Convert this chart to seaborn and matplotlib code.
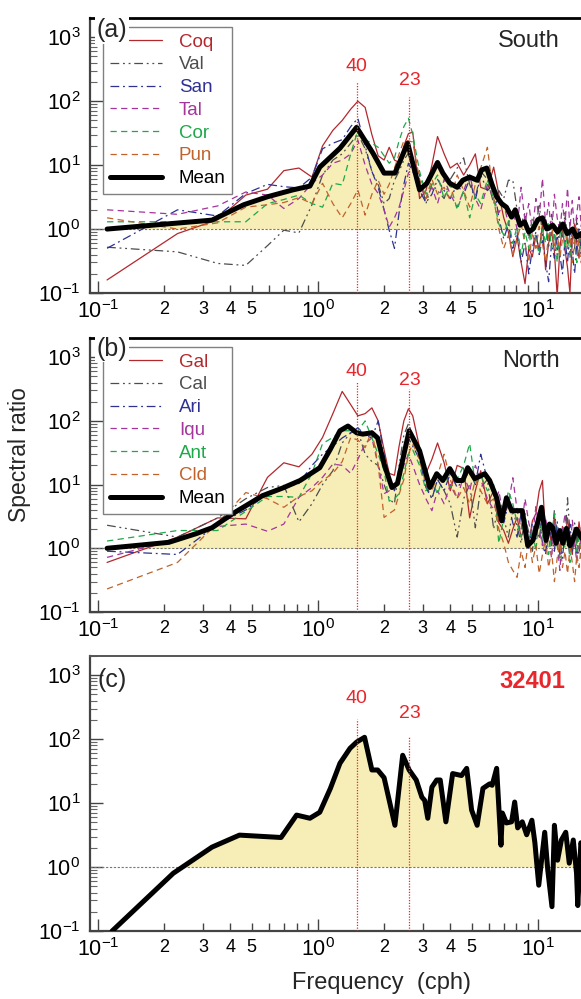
import numpy as np
import matplotlib
matplotlib.use("Agg")
import matplotlib.pyplot as plt
import seaborn as sns
from matplotlib.ticker import LogLocator, FuncFormatter, NullFormatter

sns.set_style("ticks")
plt.rcParams["font.family"] = ["Liberation Sans", "DejaVu Sans"]
plt.rcParams["mathtext.fontset"] = "custom"
plt.rcParams["mathtext.rm"] = "Liberation Sans"
plt.rcParams["mathtext.it"] = "Liberation Sans:italic"
plt.rcParams["mathtext.bf"] = "Liberation Sans:bold"

# ---------------- data ----------------
freq_grid = [0.11, 0.23, 0.35, 0.47, 0.59, 0.70, 0.82, 0.94, 1.05, 1.17,
             1.29, 1.41, 1.52, 1.64, 1.76, 1.88, 2.00, 2.11, 2.23, 2.34,
             2.46, 2.58, 2.70, 2.90, 3.10, 3.30, 3.50, 3.75, 4.00, 4.30,
             4.60, 4.90, 5.20, 5.50, 5.90, 6.30, 6.65, 7.00, 7.35, 7.70,
             8.05, 8.40, 8.75, 9.10, 9.45, 9.80, 10.15, 10.50, 10.85, 11.20,
             11.55, 11.90, 12.25, 12.60, 12.95, 13.30, 13.65, 14.00, 14.35, 14.70,
             15.05, 15.40, 15.75, 16.10, 16.50]

# South stations
coq = [0.16, 0.85, 1.4, 3.4, 4.2, 8.2, 9.0, 6.5, 20, 35,
       50, 75, 100, 80, 30, 14, 12, 19, 12, 11,
       20, 31, 33, 3.0, 4.0, 10, 28, 15, 9.0, 10.7,
       7.0, 10, 15, 4.5, 4.1, 9.3, 3.5, 1.5, 0.9, 0.37,
       0.75, 0.3, 0.14, 0.5, 0.37, 0.8, 0.47, 1.2, 0.23, 0.6,
       0.9, 0.45, 0.09, 0.5, 1.1, 0.47, 0.25, 0.1, 0.7, 1.2,
       0.6, 0.35, 0.8, 0.5, 0.9]
val = [0.52, 0.44, 0.29, 0.27, 0.55, 0.96, 0.87, 2.4, 7.0, 12,
       15, 22, 31, 18, 8.0, 5.0, 2.5, 3.0, 5.8, 8.0,
       12, 15.4, 12, 7.0, 2.5, 5.0, 4.0, 3.0, 6.0, 9.0,
       13, 5.0, 3.0, 8.0, 6.0, 2.5, 4.0, 3.0, 5.8, 5.8,
       2.0, 1.2, 1.8, 0.7, 1.5, 1.0, 2.5, 0.8, 1.4, 0.5,
       1.7, 0.9, 0.4, 1.3, 0.7, 1.8, 0.6, 0.35, 1.0, 0.5,
       1.5, 0.7, 0.4, 1.1, 0.6]
san = [0.5, 2.0, 1.6, 3.6, 5.0, 4.6, 4.4, 6.5, 18, 22,
       25, 40, 54, 20, 8.0, 4.5, 2.0, 0.96, 0.5, 1.8,
       5.0, 10.7, 8.0, 4.0, 2.6, 3.5, 6.0, 4.0, 3.0, 5.0,
       3.5, 6.0, 2.8, 7.0, 4.0, 5.0, 1.5, 0.7, 1.2, 0.5,
       0.9, 0.3, 0.6, 0.2, 0.5, 0.9, 0.4, 0.7, 0.3, 0.15,
       0.6, 0.35, 0.8, 0.4, 0.2, 0.7, 0.3, 0.9, 0.45, 0.2,
       0.6, 1.0, 0.4, 0.7, 0.3]
tal = [2.0, 1.7, 2.3, 3.8, 3.4, 2.1, 3.0, 5.2, 7.0, 10.7,
       12, 15, 24.6, 10, 5.0, 3.6, 2.0, 1.07, 1.5, 2.2,
       4.0, 7.5, 9.0, 5.0, 3.0, 4.5, 2.5, 6.0, 3.5, 2.2,
       4.0, 7.0, 3.0, 2.0, 5.0, 3.0, 1.8, 2.5, 1.2, 2.0,
       1.0, 4.5, 1.3, 2.5, 0.9, 3.0, 1.5, 6.2, 1.2, 2.6,
       0.8, 3.5, 1.5, 0.9, 2.5, 1.2, 4.4, 1.0, 2.8, 0.8,
       1.8, 3.2, 1.1, 2.0, 0.9]
cor = [1.3, 1.3, 1.3, 1.3, 2.5, 2.9, 3.4, 2.5, 2.2, 5.2,
       4.9, 15, 35, 25, 22, 19, 14, 10.7, 13, 24,
       40, 54, 30, 8.0, 3.5, 5.0, 7.0, 3.0, 5.0, 2.0,
       4.0, 1.5, 3.5, 2.5, 6.0, 3.0, 1.2, 0.8, 1.4, 0.6,
       1.1, 0.4, 0.9, 0.5, 1.3, 0.7, 0.4, 1.0, 0.6, 1.3,
       0.5, 0.9, 0.3, 0.8, 1.2, 0.5, 0.9, 0.4, 1.1, 0.6,
       0.3, 0.8, 0.5, 1.0, 0.6]
pun = [1.5, 1.0, 1.25, 2.2, 2.4, 2.6, 3.1, 2.5, 5.2, 2.5,
       1.5, 2.5, 4.1, 1.65, 3.5, 5.8, 3.5, 5.0, 9.0, 15,
       24, 24, 23, 6.0, 3.0, 6.0, 3.5, 4.5, 2.8, 7.0,
       4.0, 2.2, 5.0, 9.0, 19, 3.0, 1.0, 0.5, 0.8, 0.4,
       0.7, 1.2, 0.6, 0.3, 0.9, 0.5, 1.1, 0.6, 0.3, 0.8,
       1.2, 0.5, 0.9, 0.35, 0.7, 1.0, 0.5, 0.8, 0.3, 0.6,
       1.1, 0.5, 0.3, 0.7, 0.4]

freq_mean_south = [0.11, 0.33, 0.46, 0.59, 0.77, 0.92, 1.02, 1.26, 1.50, 1.78,
                   2.00, 2.24, 2.56, 2.90, 3.13, 3.50, 3.70, 3.98, 4.30, 4.56,
                   4.90, 5.30, 5.55, 5.86, 6.20, 6.50, 6.85, 7.20, 7.60, 7.90,
                   8.30, 8.70, 9.10, 9.50, 10.0, 10.5, 11.0, 11.7, 12.3, 13.0,
                   13.6, 14.4, 15.0, 15.7, 16.5]
mean_south = [1.0, 1.38, 2.4, 3.2, 4.1, 4.7, 9.3, 18.4, 39, 15.4,
              7.5, 7.5, 22, 4.1, 5.2, 11, 7.5, 5.2, 4.5, 5.8,
              6.5, 5.8, 8.4, 9.0, 4.9, 3.2, 2.5, 2.2, 1.54, 2.0,
              1.15, 1.3, 0.9, 1.0, 1.4, 1.5, 1.0, 1.15, 0.9, 1.2,
              0.85, 1.0, 0.75, 0.85, 0.6]

# North stations
gal = [0.6, 1.5, 3.0, 2.9, 13, 22, 19, 30, 55, 130,
       290, 180, 120, 130, 160, 100, 35, 15, 14, 40,
       100, 155, 120, 38, 15, 25, 45, 22, 8.0, 20,
       18, 3.0, 8.0, 16.5, 5.0, 8.0, 2.5, 1.9, 1.2, 2.0,
       3.05, 1.5, 2.2, 1.2, 2.7, 3.5, 8.0, 11.6, 1.5, 2.5,
       1.1, 3.0, 1.8, 0.9, 2.2, 1.3, 3.0, 1.5, 0.8, 2.0,
       1.2, 2.6, 1.4, 0.9, 1.7]
cal = [2.3, 1.5, 3.0, 6.0, 9.0, 9.7, 2.6, 5.0, 10, 16.5,
       45, 65, 70, 30, 23, 20, 10, 6.0, 5.0, 20,
       60, 90, 60, 25, 10, 6.0, 12, 8.0, 5.0, 1.5,
       6.0, 10, 2.1, 9.0, 12, 2.0, 5.0, 3.0, 1.5, 4.0,
       2.2, 1.2, 3.0, 1.8, 0.9, 2.4, 1.4, 3.5, 0.9, 2.0,
       1.3, 4.0, 1.5, 0.8, 2.2, 1.2, 6.2, 1.8, 0.9, 2.5,
       1.3, 0.8, 2.1, 1.0, 1.6]
ari = [0.9, 0.8, 2.4, 4.0, 7.2, 9.0, 10.4, 20, 30, 40,
       54, 65, 78, 60, 54, 100, 30, 12, 8.0, 16.5,
       30, 54, 40, 25, 9.0, 6.0, 12, 8.0, 15, 9.0,
       12, 16, 10, 30, 12, 8.0, 4.0, 2.5, 5.0, 2.5,
       1.5, 3.5, 2.0, 1.0, 2.5, 1.4, 3.0, 1.2, 0.8, 2.3,
       1.5, 0.9, 2.6, 1.3, 0.7, 1.9, 1.1, 2.4, 0.9, 1.5,
       0.7, 1.8, 1.1, 0.6, 1.4]
iqu = [0.72, 1.4, 2.2, 2.4, 1.85, 2.4, 6.3, 9.0, 13, 21,
       20, 15, 25, 44, 54, 20, 7.2, 8.0, 10.4, 12,
       20, 30, 20, 10, 6.0, 3.9, 8.0, 5.0, 10, 6.0,
       14, 8.0, 20, 12, 6.0, 4.0, 8.0, 3.0, 5.0, 12.8,
       4.0, 2.0, 6.0, 2.5, 1.5, 4.5, 2.0, 1.1, 3.0, 1.5,
       0.7, 2.5, 1.2, 0.45, 1.8, 3.5, 1.3, 0.8, 2.8, 1.2,
       0.6, 2.0, 1.0, 2.5, 0.9]
ant = [1.3, 1.9, 1.9, 3.8, 6.5, 6.5, 6.3, 15, 44, 55,
       70, 70, 70, 100, 54, 30, 16.5, 5.5, 6.0, 7.2,
       15, 30, 35, 20, 8.0, 12, 7.0, 15, 9.0, 12,
       20, 44, 10, 14, 8.0, 10, 1.2, 3.0, 8.0, 5.0,
       2.5, 1.5, 3.5, 1.2, 2.0, 0.9, 3.2, 1.5, 2.4, 0.8,
       1.6, 3.5, 1.1, 0.7, 1.9, 1.0, 2.3, 0.6, 1.4, 2.2,
       0.9, 1.5, 0.7, 1.8, 1.1]
cld = [0.23, 0.6, 2.5, 7.5, 6.0, 4.4, 6.5, 8.0, 11.6, 15,
       23, 55, 50, 38, 70, 20, 3.05, 3.5, 4.0, 7.0,
       12, 30, 44, 25, 10, 8.0, 14, 30, 12, 6.0,
       9.0, 5.0, 12, 8.0, 5.0, 6.0, 2.0, 1.2, 0.6, 0.45,
       0.35, 0.9, 0.5, 1.5, 0.6, 1.1, 0.4, 0.8, 1.4, 0.5,
       0.9, 0.3, 0.7, 1.2, 0.5, 0.9, 0.4, 1.0, 0.6, 0.3,
       0.8, 0.5, 1.1, 0.4, 0.7]

freq_mean_north = [0.11, 0.21, 0.28, 0.33, 0.41, 0.56, 0.69, 0.83, 1.02, 1.14,
                   1.26, 1.37, 1.50, 1.60, 1.76, 1.87, 2.00, 2.17, 2.30, 2.60,
                   2.90, 3.23, 3.47, 3.70, 3.98, 4.28, 4.56, 4.80, 5.17, 5.74,
                   6.04, 6.50, 6.85, 7.20, 7.60, 8.50, 9.00, 9.50, 10.4, 10.9,
                   11.3, 11.7, 12.1, 12.6, 13.0, 13.5, 14.0, 14.4, 15.0, 15.7,
                   16.5]
mean_north = [1.0, 1.24, 1.7, 2.1, 3.5, 6.7, 8.8, 11.6, 18.4, 36,
              70, 83, 65, 62, 65, 54, 21, 9.0, 10.4, 70,
              34, 9.0, 14.8, 11.6, 17.8, 11.6, 11.6, 18.4, 12.4, 14.8,
              11.6, 6.2, 2.7, 6.2, 3.9, 3.9, 1.1, 1.33, 4.4, 1.33,
              2.4, 2.1, 1.2, 1.9, 1.2, 2.05, 1.1, 1.33, 2.0, 1.5,
              1.2]

# DART 32401
freq_32401 = [0.116, 0.22, 0.33, 0.44, 0.68, 0.80, 0.92, 1.02, 1.14, 1.26,
              1.40, 1.50, 1.63, 1.76, 1.87, 2.00, 2.24, 2.43, 2.60, 2.80,
              2.97, 3.06, 3.16, 3.30, 3.47, 3.60, 3.82, 4.10, 4.50, 4.75,
              5.00, 5.30, 5.63, 6.04, 6.20, 6.50, 6.80, 6.90, 7.20, 7.60,
              7.85, 8.10, 8.50, 8.90, 9.40, 9.70, 10.1, 10.75, 11.1, 11.6,
              11.9, 12.3, 12.8, 13.4, 13.9, 14.5, 15.0, 15.2, 15.7, 16.5]
ratio_32401 = [0.1, 0.8, 2.05, 3.16, 2.9, 6.5, 5.8, 7.2, 17, 42,
               72, 90, 107, 33, 33, 25, 4.5, 56, 33, 23,
               12.4, 11, 5.8, 17.8, 23, 23, 5.1, 29, 27, 35,
               7.8, 4.5, 17, 20, 19, 35, 2.2, 7.0, 4.9, 5.1,
               10.4, 4.1, 5.1, 3.2, 5.4, 2.4, 0.52, 3.5, 0.9, 0.24,
               4.5, 1.28, 2.65, 3.5, 1.15, 2.65, 0.8, 0.25, 2.4, 1.5]

south_names = ["Coq", "Val", "San", "Tal", "Cor", "Pun"]
north_names = ["Gal", "Cal", "Ari", "Iqu", "Ant", "Cld"]
period_labels = ["40", "23"]
period_freqs = [60 / 40, 60 / 23]

# ---------------- styles ----------------
COLORS = ["#B3282D", "#4D4D4D", "#2E3192", "#A3359B", "#1DA84A", "#C1622B"]
STYLES = ["-", (0, (7, 3, 1.5, 3, 1.5, 3)), (0, (7, 3, 1.5, 3)),
          (0, (5, 3.5)), (0, (5, 3.5)), (0, (5, 3.5))]
RED = "#E8262B"
FILL = "#F6EDB7"

W, H = 581, 999
RIGHT_PX = 604
fig = plt.figure(figsize=(W / 100, H / 100), dpi=100)


def add_ax(top_px, bot_px):
    return fig.add_axes([90 / W, 1 - bot_px / H, (RIGHT_PX - 90) / W, (bot_px - top_px) / H])


def minor_fmt(v, pos):
    if v > 15:
        return ""
    e = np.floor(np.log10(v) + 1e-9)
    m = v / 10 ** e
    k = int(round(m))
    return str(k) if k in (2, 3, 4, 5) and abs(m - k) < 0.01 else ""


def style_axes(ax, top_color, top_lw):
    ax.set_xscale("log")
    ax.set_yscale("log")
    ax.set_xlim(0.092, 20)
    ax.set_ylim(0.1, 2000)
    ax.xaxis.set_major_locator(LogLocator(base=10, numticks=10))
    ax.xaxis.set_minor_locator(LogLocator(base=10, subs=np.arange(2, 10), numticks=30))
    ax.xaxis.set_minor_formatter(FuncFormatter(minor_fmt))
    ax.yaxis.set_major_locator(LogLocator(base=10, numticks=10))
    ax.yaxis.set_minor_locator(LogLocator(base=10, subs=np.arange(2, 10), numticks=30))
    ax.yaxis.set_minor_formatter(NullFormatter())
    ax.tick_params(axis="x", which="major", direction="in", length=9, width=1,
                   labelsize=15.5, pad=5, color="#444444", labelcolor="black")
    ax.tick_params(axis="x", which="minor", direction="in", length=6, width=1,
                   labelsize=13, pad=6, color="#444444", labelcolor="black")
    ax.tick_params(axis="y", which="major", direction="in", length=9, width=1,
                   labelsize=15.5, pad=7, color="#444444", labelcolor="black")
    ax.tick_params(axis="y", which="minor", direction="in", length=5, width=0.8,
                   color="#666666")
    ax.tick_params(top=False, right=False, which="both")
    for s in ["left", "bottom"]:
        ax.spines[s].set_color("#444444")
        ax.spines[s].set_linewidth(1.6)
    ax.spines["top"].set_color(top_color)
    ax.spines["top"].set_linewidth(top_lw)
    ax.spines["right"].set_visible(False)
    ax.set_xlabel("")
    ax.set_ylabel("")


def draw_mean(ax, f, v, label):
    f = np.asarray(f)
    v = np.asarray(v)
    ax.fill_between(f, 1, v, where=v > 1, interpolate=True, color=FILL, lw=0, zorder=0)
    ax.axhline(1, color="#777777", ls=(0, (2, 1.5)), lw=0.8, zorder=1)
    sns.lineplot(x=f, y=v, ax=ax, color="black", lw=3.6, label=label, legend=False,
                 estimator=None, sort=False, zorder=5)


def draw_periods(ax, tops, text_y):
    for f, lab, top, ty in zip(period_freqs, period_labels, tops, text_y):
        ax.vlines(f, 0.1, top, colors=RED, linestyles=(0, (1, 1.2)), lw=0.9, zorder=6)
        ax.text(f, ty, lab, color=RED, fontsize=14, ha="center", va="center", zorder=7)


def draw_panel(ax, names, series, f_mean, v_mean, tag, tag_y, region, tops, text_y):
    for name, vals, c, ls in zip(names, series, COLORS, STYLES):
        sns.lineplot(x=freq_grid, y=vals, ax=ax, color=c, linestyle=ls, lw=0.9,
                     label=name, legend=False, estimator=None, sort=False, zorder=3)
    draw_mean(ax, f_mean, v_mean, "Mean")
    draw_periods(ax, tops, text_y)
    handles, labels = ax.get_legend_handles_labels()
    leg = ax.legend(handles, labels, loc="upper left",
                    bbox_to_anchor=(13 / 514, 1 - 9 / 275), borderaxespad=0,
                    frameon=True, fancybox=False, framealpha=1, edgecolor="#808080",
                    fontsize=13.5, handlelength=2.8, handletextpad=0.9,
                    labelspacing=0.3, borderpad=0.35)
    leg.get_frame().set_linewidth(1.0)
    leg.set_zorder(10)
    for t, c in zip(leg.get_texts(), COLORS + ["black"]):
        t.set_color(c)
    ax.text(0.0136, tag_y, tag, transform=ax.transAxes, fontsize=18, ha="left",
            va="center", zorder=11,
            bbox=dict(facecolor="white", edgecolor="none", pad=1.0))
    ax.text(0.914, 0.915, region, transform=ax.transAxes, fontsize=17,
            ha="right", va="center")


# Panel (a)
ax_a = add_ax(18, 293)
draw_panel(ax_a, south_names, [coq, val, san, tal, cor, pun],
           freq_mean_south, mean_south, "(a)", 0.955, "South",
           tops=[200, 115], text_y=[355, 214])
style_axes(ax_a, "black", 2.0)

# Panel (b)
ax_b = add_ax(338, 612)
draw_panel(ax_b, north_names, [gal, cal, ari, iqu, ant, cld],
           freq_mean_north, mean_north, "(b)", 0.96, "North",
           tops=[420, 316], text_y=[603, 437])
style_axes(ax_b, "black", 2.0)

# Panel (c)
ax_c = add_ax(656, 931)
draw_mean(ax_c, freq_32401, ratio_32401, None)
draw_periods(ax_c, tops=[205, 107], text_y=[437, 255])
ax_c.text(0.0155, 0.913, "(c)", transform=ax_c.transAxes, fontsize=18,
          ha="left", va="center")
ax_c.text(0.924, 0.909, "32401", transform=ax_c.transAxes, fontsize=17,
          fontweight="bold", color=RED, ha="right", va="center")
style_axes(ax_c, "#555555", 1.4)

fig.text(20 / W, 1 - 455 / H, "Spectral ratio", rotation=90, fontsize=16.5,
         ha="center", va="center")
fig.text(381 / W, 1 - 983 / H, "Frequency  (cph)", fontsize=17,
         ha="center", va="center")

fig.savefig("out.png", dpi=100)
